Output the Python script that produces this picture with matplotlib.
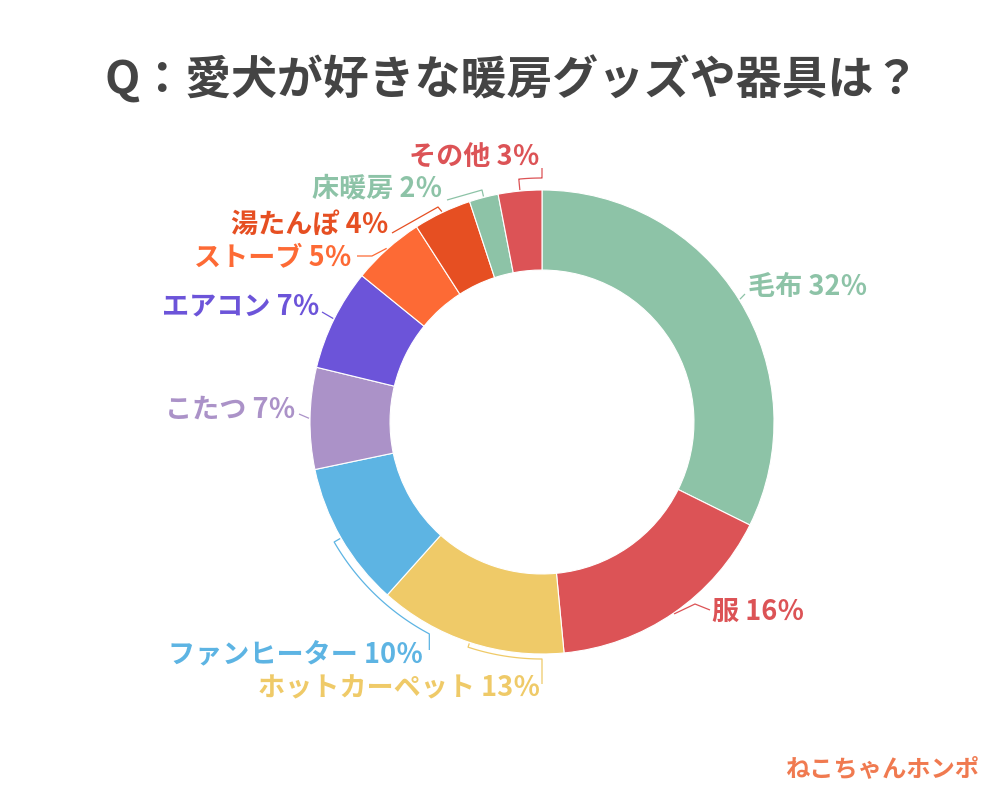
import numpy as np
import matplotlib.pyplot as plt

plt.rcParams['font.family'] = ['Noto Sans CJK JP', 'DejaVu Sans']

# data
labels = ['毛布', '服', 'ホットカーペット', 'ファンヒーター', 'こたつ',
          'エアコン', 'ストーブ', '湯たんぽ', '床暖房', 'その他']
values = [32, 16, 13, 10, 7, 7, 5, 4, 2, 3]
colors = ['#8dc3a7', '#dc5356', '#efca68', '#5db4e3', '#ab92c8',
          '#6c54d9', '#fd6a35', '#e64f22', '#8dc3a7', '#dc5356']

title = 'Q：愛犬が好きな暖房グッズや器具は？'

W, H = 1000, 800
cx, cy, R = 542, 422, 232   # pixel coords, y downwards


def Y(py):
    return H - py


def polar(cw_deg, r):
    a = np.radians(90 - cw_deg)
    return cx + r * np.cos(a), cy - r * np.sin(a)


fig = plt.figure(figsize=(10, 8), dpi=100)
ax = fig.add_axes([0, 0, 1, 1])

ax.pie(values, colors=colors, startangle=90, counterclock=False,
       center=(cx, Y(cy)), radius=R,
       wedgeprops=dict(width=R * 0.345, edgecolor='white', linewidth=0.8))
ax.set_xlim(0, W)
ax.set_ylim(0, H)
ax.set_aspect('equal')
ax.axis('off')

# mid angle of every slice, clockwise from the top
cum = np.cumsum(values) / sum(values)
start = np.concatenate([[0], cum[:-1]])
mids = (start + cum) / 2 * 360

# label layout: text x, text y, ha, leader points after the anchor
# leader kinds: 'line' -> anchor then points, 'arc' -> arc to angle then point
layout = [
    (748, 287, 'left', 'line', [(745, 294)]),
    (712, 612, 'left', 'line', [(695, 604), (710, 610)]),
    (540, 688, 'right', 'arc', (R + 5, 180, 684)),
    (423, 655, 'right', 'arc', (R + 8, 208, 650)),
    (296, 410, 'right', 'line', [(299, 414)]),
    (320, 306, 'right', 'line', [(322, 312)]),
    (352, 258, 'right', 'line', [(372, 256), (357, 256)]),
    (389, 225, 'right', 'line', [(438, 207), (392, 233)]),
    (443, 188, 'right', 'line', [(482, 190), (447, 200)]),
    (540, 158, 'right', 'arc', (R + 12, 360, 168)),
]

for lab, val, col, mid, (tx, ty, ha, kind, pts) in zip(labels, values, colors, mids, layout):
    ax.text(tx, Y(ty), f'{lab} {val}％', color=col, fontsize=19.5,
            fontweight='bold', ha=ha, va='center')
    ax0 = polar(mid, R + 1)
    if kind == 'line':
        xs = [ax0[0]] + [p[0] for p in pts]
        ys = [ax0[1]] + [p[1] for p in pts]
    else:
        r, end_ang, end_y = pts
        p1 = polar(mid, r)
        angs = np.linspace(mid, end_ang, 40)
        arc = [polar(a, r) for a in angs]
        last = arc[-1]
        xs = [ax0[0], p1[0]] + [p[0] for p in arc] + [last[0]]
        ys = [ax0[1], p1[1]] + [p[1] for p in arc] + [end_y]
    ax.plot(xs, [Y(v) for v in ys], color=col, lw=0.9, solid_capstyle='butt')

ax.text(512, Y(80), title, fontsize=33, fontweight='bold', color='#444444',
        ha='center', va='center')

ax.text(882, Y(770), 'ねこちゃんホンポ', fontsize=17.5, fontweight='bold',
        color='#f07a50', ha='center', va='center')

fig.savefig('out.png', dpi=100, facecolor='white')
